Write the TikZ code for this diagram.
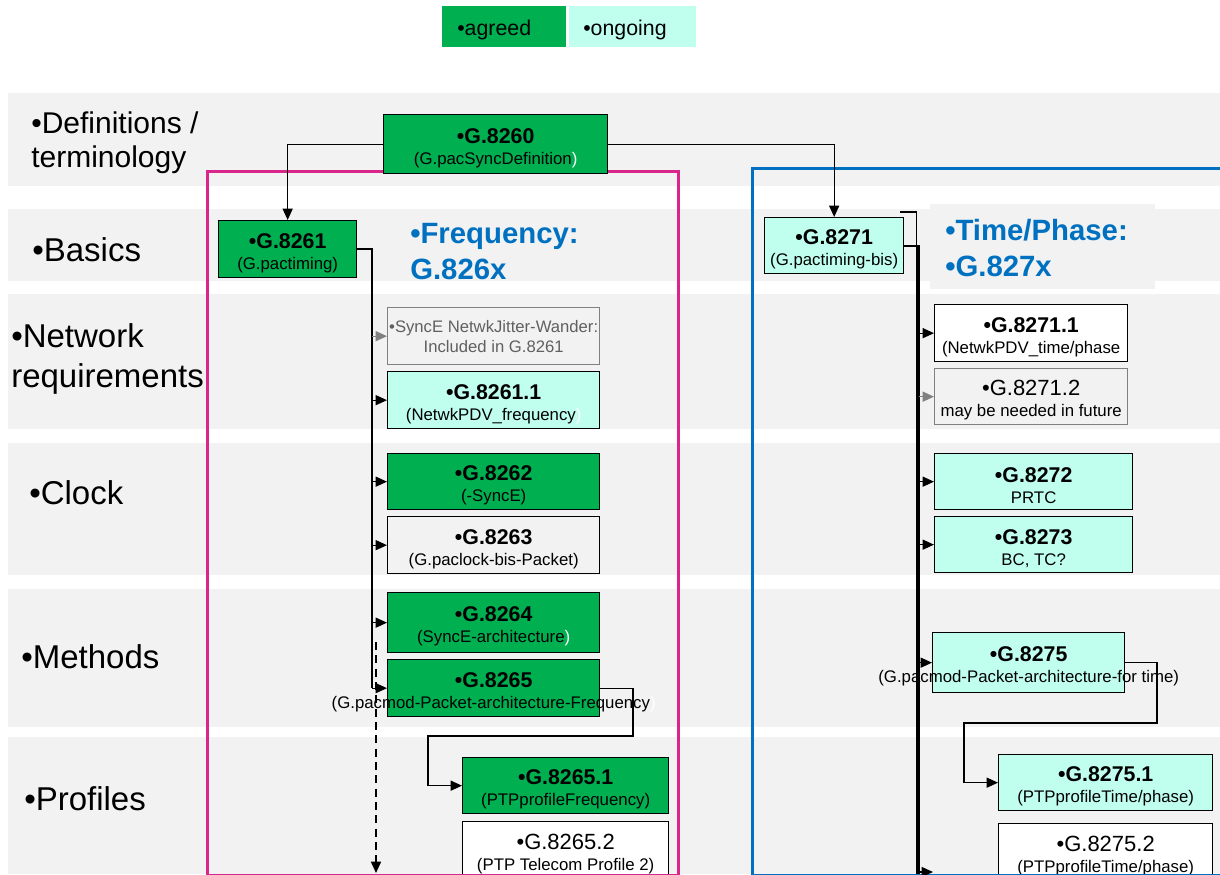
\documentclass[tikz,border=0pt]{standalone}
\usepackage{fontspec}
\setmainfont{Liberation Sans}
\usetikzlibrary{arrows.meta}
\definecolor{agreed}{RGB}{0,176,80}
\definecolor{ongoing}{RGB}{192,255,238}
\definecolor{band}{RGB}{242,242,242}
\definecolor{pinkframe}{RGB}{216,38,138}
\definecolor{blueframe}{RGB}{0,112,192}
\definecolor{graytext}{RGB}{96,96,96}
\definecolor{grayline}{RGB}{128,128,128}
\newcommand\hd[1]{\rule{0pt}{17pt}{\fontsize{16}{16}\selectfont\bfseries #1}}
\newcommand\hn[1]{\rule{0pt}{17pt}{\fontsize{16.5}{16.5}\selectfont #1}}
\newcommand\whp{{\color{white})}}
\tikzset{
  box/.style={draw=black, line width=1pt, inner sep=0pt, align=center, anchor=north west,
    font=\fontsize{12.6}{15.75}\selectfont},
  gbox/.style={box, fill=agreed},
  obox/.style={box, fill=ongoing},
  wbox/.style={box, fill=white},
  fbox/.style={box, fill=band},
  sz/.style 2 args={minimum width=#1*0.75pt, minimum height=#2*0.75pt},
  rowlbl/.style={anchor=base west, inner sep=0pt, font=\fontsize{24.75}{24.75}\selectfont},
  deflbl/.style={anchor=base west, inner sep=0pt, font=\fontsize{22.5}{22.5}\selectfont},
  bluelbl/.style={anchor=base west, inner sep=0pt, text=blueframe, font=\fontsize{22}{22}\selectfont\bfseries},
  legend/.style={anchor=north west, inner ysep=0pt, align=left, text height=29*0.75pt,
    text depth=12*0.75pt, font=\fontsize{16}{16}\selectfont},
  arr/.style={-{Triangle[length=8.5pt,width=7.5pt]}},
  conn/.style={draw=black, line width=1pt},
  trunk/.style={draw=black, line width=1.6pt},
  frame/.style={line width=2.25pt},
}
\begin{document}
\begin{tikzpicture}[x=0.75pt, y=-0.75pt]
\useasboundingbox (0,0) rectangle (1220,874);
% bands
\fill[band] (8,93) rectangle (1220,186);
\fill[band] (8,209) rectangle (1220,281);
\fill[band] (8,294) rectangle (1220,429);
\fill[band] (8,443) rectangle (1220,575);
\fill[band] (8,589) rectangle (1220,727);
\fill[band] (8,737) rectangle (1220,874);
\fill[band] (930,204) rectangle (1155,289);
% frames
\draw[frame, draw=pinkframe] (207,875) -- (207,171) -- (678,171) -- (678,875) -- cycle;
\draw[frame, draw=blueframe] (1225,168) -- (752,168) -- (752,875) -- (1225,875);
% legend
\node[legend, fill=agreed, inner xsep=15*0.75pt, text width=94*0.75pt] (legA) at (442,6) {•agreed};
\node[legend, fill=ongoing, inner xsep=14*0.75pt, text width=99*0.75pt] (legO) at (569,6) {•ongoing};
% row labels
\node[deflbl] (lDef1) at (31,133) {•Definitions /};
\node[deflbl] (lDef2) at (31,167) {terminology};
\node[rowlbl] (lBas) at (32,261) {•Basics};
\node[rowlbl] (lNet1) at (11,347) {•Network};
\node[rowlbl] (lNet2) at (11,387) {requirements};
\node[rowlbl] (lClk) at (29,504) {•Clock};
\node[rowlbl] (lMet) at (21,668) {•Methods};
\node[rowlbl] (lPro) at (24,810) {•Profiles};
% blue titles
\node[bluelbl] (lFreq1) at (410,243) {•Frequency:};
\node[bluelbl] (lFreq2) at (410,279) {G.826x};
\node[bluelbl] (lTime1) at (945,240) {•Time/Phase:};
\node[bluelbl] (lTime2) at (945,276) {•G.827x};
% boxes - frequency
\node[gbox, sz={224}{59}] (g8260) at (383,114) {\hd{•G.8260}\\(G.pacSyncDefinition\whp};
\node[gbox, sz={138}{57}] (g8261) at (218,220) {\hd{•G.8261}\\(G.pactiming)};
\node[box, fill=band, draw=grayline, text=graytext, sz={212}{57}, font=\fontsize{12.5}{15}\selectfont] (synce) at (387,307) {•SyncE NetwkJitter-Wander:\\Included in G.8261};
\node[obox, sz={212}{57}] (g82611) at (387,371) {\hd{•G.8261.1}\\(NetwkPDV\_frequency\whp};
\node[gbox, sz={212}{56}] (g8262) at (387,453) {\hd{•G.8262}\\(-SyncE)};
\node[fbox, sz={212}{57}] (g8263) at (387,516) {\hd{•G.8263}\\(G.paclock-bis-Packet)};
\node[gbox, sz={212}{60}] (g8264) at (387,592) {\hd{•G.8264}\\(SyncE-architecture\whp};
\node[gbox, sz={212}{57}] (g8265) at (387,659) {\hd{•G.8265}\\\makebox[0pt][c]{(G.pacmod-Packet-architecture-Frequency\whp}};
\node[gbox, sz={206}{56}] (g82651) at (462,757) {\hd{•G.8265.1}\\(PTPprofileFrequency)};
\node[wbox, sz={206}{57}] (g82652) at (462,821) {\hn{•G.8265.2}\\(PTP Telecom Profile 2)};
% boxes - time
\node[obox, sz={139}{56}] (g8271) at (764,217) {\hd{•G.8271}\\(G.pactiming-bis)};
\node[wbox, sz={193}{57}] (g82711) at (934,304) {\hd{•G.8271.1}\\(NetwkPDV\_time/phase};
\node[box, fill=band, draw=grayline, sz={193}{56}] (g82712) at (934,368) {\hn{•G.8271.2}\\may be needed in future};
\node[obox, sz={198}{56}] (g8272) at (934,453) {\hd{•G.8272}\\PRTC};
\node[obox, sz={198}{56}] (g8273) at (934,516) {\hd{•G.8273}\\BC, TC?};
\node[obox, sz={192}{60}] (g8275) at (932,632) {\hd{•G.8275}\\\makebox[0pt][c]{(G.pacmod-Packet-architecture-for time)}};
\node[obox, sz={214}{56}] (g82751) at (998,754) {\hd{•G.8275.1}\\(PTPprofileTime/phase)};
\node[wbox, sz={214}{57}] (g82752) at (998,823) {\hn{•G.8275.2}\\(PTPprofileTime/phase)};
% frame bottoms over boxes
\draw[frame, draw=pinkframe] (207,875) -- (678,875);
\draw[frame, draw=blueframe] (752,875) -- (1225,875);
% connectors from G.8260
\draw[conn, arr] (g8260.west) -| (g8261.north);
\draw[conn, arr] (g8260.east) -| (g8271.north);
% frequency trunk
\coordinate (fT) at (372,687.5);
\draw[trunk] (g8261.east) -| (fT);
\draw[conn, arr, draw=grayline, color=grayline] (fT |- synce.west) -- (synce.west);
\draw[conn, arr] (fT |- g82611.west) -- (g82611.west);
\draw[conn, arr] (fT |- g8262.west) -- (g8262.west);
\draw[conn, arr] (fT |- g8263.west) -- (g8263.west);
\draw[conn, arr] (fT |- g8264.west) -- (g8264.west);
\draw[conn, arr] (fT |- g8265.west) -- (g8265.west);
\coordinate (dA) at (376,642);
\coordinate (dB) at (376,873);
\draw[conn, arr, line width=1.2pt, dash pattern=on 6pt off 4pt] (dA) -- (dB);
\coordinate (c1) at (633,736);
\coordinate (c2) at (428,736);
\draw[conn, arr] (g8265.east) -| (c1) -- (c2) |- (g82651.west);
% time trunk
\coordinate (tB1) at (900,212);
\coordinate (tB2) at (916.5,212);
\coordinate (tB3) at (916.5,874);
\draw[conn, line width=0.8pt] (tB1) -- (tB2) -- (tB3);
\coordinate (tT) at (918.5,874);
\draw[trunk] (g8271.east) -| (tT);
\draw[conn, arr] (tT |- g82711.west) -- (g82711.west);
\draw[conn, arr, draw=grayline, color=grayline] (tT |- g82712.west) -- (g82712.west);
\draw[conn, arr] (tT |- g8272.west) -- (g8272.west);
\draw[conn, arr] (tT |- g8273.west) -- (g8273.west);
\draw[conn, arr] (tT |- g8275.west) -- (g8275.west);
\coordinate (tEnd) at (933,872);
\draw[conn, arr] (tT |- tEnd) -- (tEnd);
\coordinate (c3) at (1157,723);
\coordinate (c4) at (964,723);
\draw[conn, arr] (g8275.east) -| (c3) -- (c4) |- (g82751.west);
\end{tikzpicture}
\end{document}
